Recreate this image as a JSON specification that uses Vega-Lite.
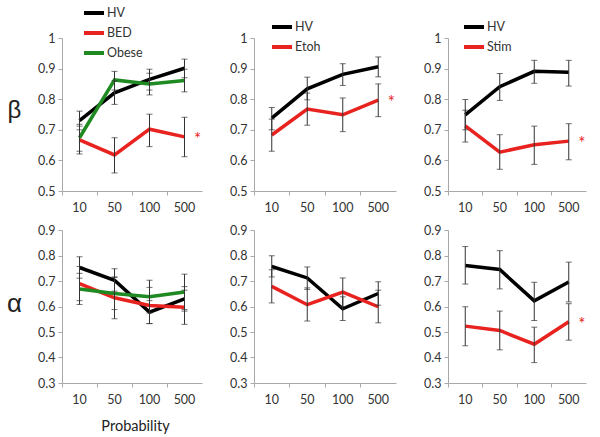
{
  "$schema": "https://vega.github.io/schema/vega-lite/v6.json",
  "background": "white",
  "padding": {"left": 6, "top": 1, "right": 5, "bottom": 5},
  "datasets": {
    "d": [
      {"panel": "b1", "group": "HV", "prob": "10", "value": 0.730, "lo": 0.700, "hi": 0.761},
      {"panel": "b1", "group": "HV", "prob": "50", "value": 0.821, "lo": 0.783, "hi": 0.860},
      {"panel": "b1", "group": "HV", "prob": "100", "value": 0.865, "lo": 0.830, "hi": 0.898},
      {"panel": "b1", "group": "HV", "prob": "500", "value": 0.901, "lo": 0.870, "hi": 0.931},
      {"panel": "b1", "group": "BED", "prob": "10", "value": 0.667, "lo": 0.621, "hi": 0.712},
      {"panel": "b1", "group": "BED", "prob": "50", "value": 0.618, "lo": 0.559, "hi": 0.674},
      {"panel": "b1", "group": "BED", "prob": "100", "value": 0.702, "lo": 0.645, "hi": 0.751},
      {"panel": "b1", "group": "BED", "prob": "500", "value": 0.677, "lo": 0.612, "hi": 0.741},
      {"panel": "b1", "group": "Obese", "prob": "10", "value": 0.674, "lo": 0.630, "hi": 0.718},
      {"panel": "b1", "group": "Obese", "prob": "50", "value": 0.863, "lo": 0.830, "hi": 0.891},
      {"panel": "b1", "group": "Obese", "prob": "100", "value": 0.850, "lo": 0.814, "hi": 0.885},
      {"panel": "b1", "group": "Obese", "prob": "500", "value": 0.861, "lo": 0.824, "hi": 0.898},
      {"panel": "b2", "group": "HV", "prob": "10", "value": 0.738, "lo": 0.700, "hi": 0.773},
      {"panel": "b2", "group": "HV", "prob": "50", "value": 0.834, "lo": 0.798, "hi": 0.872},
      {"panel": "b2", "group": "HV", "prob": "100", "value": 0.881, "lo": 0.845, "hi": 0.916},
      {"panel": "b2", "group": "HV", "prob": "500", "value": 0.906, "lo": 0.873, "hi": 0.938},
      {"panel": "b2", "group": "Etoh", "prob": "10", "value": 0.683, "lo": 0.630, "hi": 0.735},
      {"panel": "b2", "group": "Etoh", "prob": "50", "value": 0.768, "lo": 0.715, "hi": 0.820},
      {"panel": "b2", "group": "Etoh", "prob": "100", "value": 0.749, "lo": 0.694, "hi": 0.804},
      {"panel": "b2", "group": "Etoh", "prob": "500", "value": 0.797, "lo": 0.743, "hi": 0.850},
      {"panel": "b3", "group": "HV", "prob": "10", "value": 0.749, "lo": 0.700, "hi": 0.799},
      {"panel": "b3", "group": "HV", "prob": "50", "value": 0.841, "lo": 0.796, "hi": 0.884},
      {"panel": "b3", "group": "HV", "prob": "100", "value": 0.891, "lo": 0.852, "hi": 0.927},
      {"panel": "b3", "group": "HV", "prob": "500", "value": 0.888, "lo": 0.843, "hi": 0.927},
      {"panel": "b3", "group": "Stim", "prob": "10", "value": 0.713, "lo": 0.660, "hi": 0.764},
      {"panel": "b3", "group": "Stim", "prob": "50", "value": 0.627, "lo": 0.571, "hi": 0.684},
      {"panel": "b3", "group": "Stim", "prob": "100", "value": 0.651, "lo": 0.587, "hi": 0.712},
      {"panel": "b3", "group": "Stim", "prob": "500", "value": 0.663, "lo": 0.602, "hi": 0.720},
      {"panel": "a1", "group": "HV", "prob": "10", "value": 0.753, "lo": 0.711, "hi": 0.795},
      {"panel": "a1", "group": "HV", "prob": "50", "value": 0.703, "lo": 0.660, "hi": 0.748},
      {"panel": "a1", "group": "HV", "prob": "100", "value": 0.578, "lo": 0.533, "hi": 0.623},
      {"panel": "a1", "group": "HV", "prob": "500", "value": 0.630, "lo": 0.582, "hi": 0.678},
      {"panel": "a1", "group": "BED", "prob": "10", "value": 0.690, "lo": 0.623, "hi": 0.757},
      {"panel": "a1", "group": "BED", "prob": "50", "value": 0.634, "lo": 0.552, "hi": 0.716},
      {"panel": "a1", "group": "BED", "prob": "100", "value": 0.604, "lo": 0.533, "hi": 0.675},
      {"panel": "a1", "group": "BED", "prob": "500", "value": 0.597, "lo": 0.530, "hi": 0.664},
      {"panel": "a1", "group": "Obese", "prob": "10", "value": 0.669, "lo": 0.608, "hi": 0.730},
      {"panel": "a1", "group": "Obese", "prob": "50", "value": 0.651, "lo": 0.588, "hi": 0.714},
      {"panel": "a1", "group": "Obese", "prob": "100", "value": 0.638, "lo": 0.575, "hi": 0.703},
      {"panel": "a1", "group": "Obese", "prob": "500", "value": 0.657, "lo": 0.588, "hi": 0.727},
      {"panel": "a2", "group": "HV", "prob": "10", "value": 0.757, "lo": 0.716, "hi": 0.799},
      {"panel": "a2", "group": "HV", "prob": "50", "value": 0.712, "lo": 0.667, "hi": 0.755},
      {"panel": "a2", "group": "HV", "prob": "100", "value": 0.591, "lo": 0.545, "hi": 0.638},
      {"panel": "a2", "group": "HV", "prob": "500", "value": 0.651, "lo": 0.605, "hi": 0.697},
      {"panel": "a2", "group": "Etoh", "prob": "10", "value": 0.679, "lo": 0.614, "hi": 0.744},
      {"panel": "a2", "group": "Etoh", "prob": "50", "value": 0.607, "lo": 0.543, "hi": 0.673},
      {"panel": "a2", "group": "Etoh", "prob": "100", "value": 0.656, "lo": 0.600, "hi": 0.712},
      {"panel": "a2", "group": "Etoh", "prob": "500", "value": 0.599, "lo": 0.536, "hi": 0.664},
      {"panel": "a3", "group": "HV", "prob": "10", "value": 0.761, "lo": 0.688, "hi": 0.835},
      {"panel": "a3", "group": "HV", "prob": "50", "value": 0.745, "lo": 0.669, "hi": 0.819},
      {"panel": "a3", "group": "HV", "prob": "100", "value": 0.622, "lo": 0.545, "hi": 0.695},
      {"panel": "a3", "group": "HV", "prob": "500", "value": 0.696, "lo": 0.618, "hi": 0.774},
      {"panel": "a3", "group": "Stim", "prob": "10", "value": 0.523, "lo": 0.446, "hi": 0.599},
      {"panel": "a3", "group": "Stim", "prob": "50", "value": 0.506, "lo": 0.430, "hi": 0.582},
      {"panel": "a3", "group": "Stim", "prob": "100", "value": 0.452, "lo": 0.380, "hi": 0.519},
      {"panel": "a3", "group": "Stim", "prob": "500", "value": 0.540, "lo": 0.468, "hi": 0.611}
    ]
  },
  "data": {"name": "d"},
  "columns": 3,
  "spacing": {"row": 39, "column": 52},
  "bounds": "flush",
  "resolve": {
    "scale": {"x": "independent", "y": "independent", "color": "independent"},
    "axis": {"x": "independent", "y": "independent"},
    "legend": {"color": "independent"}
  },
  "concat": [
    {
      "width": 140, "height": 153,
      "transform": [{"filter": "datum.panel == 'b1'"}],
      "encoding": {
        "x": {"field": "prob", "type": "ordinal", "sort": ["10", "50", "100", "500"], "scale": {"type": "band", "paddingInner": 0, "paddingOuter": 0}, "axis": {"title": null, "labelAngle": 0, "bandPosition": 0}}
      },
      "layer": [
        {"mark": {"type": "line", "strokeWidth": 3.5},
         "encoding": {
           "y": {"field": "value", "type": "quantitative", "title": "β", "scale": {"domain": [0.5, 1], "nice": false, "zero": false}, "axis": {"values": [0.5, 0.6, 0.7, 0.8, 0.9, 1], "labelOverlap": false, "format": ".1~f", "titleAngle": 0, "titleX": -48, "titleY": 72, "titleAlign": "center", "titleBaseline": "middle", "titleFontSize": 24}},
           "color": {"field": "group", "type": "nominal", "scale": {"domain": ["HV", "BED", "Obese"], "range": ["#000000", "#e8231f", "#1f8a22"]}, "legend": {"title": null, "orient": "none", "legendX": 20, "legendY": -37, "rowPadding": -4}}
         }},
        {"mark": {"type": "errorbar", "ticks": {"size": 6}, "color": "#333333", "thickness": 1},
         "encoding": {"y": {"field": "lo", "type": "quantitative", "title": "β", "axis": {"values": [0.5, 0.6, 0.7, 0.8, 0.9, 1], "labelOverlap": false, "format": ".1~f", "titleAngle": 0, "titleX": -48, "titleY": 72, "titleAlign": "center", "titleBaseline": "middle", "titleFontSize": 24}}, "y2": {"field": "hi"}, "detail": {"field": "group"}}},
        {"transform": [{"filter": "datum.group == 'BED' && datum.prob == '500'"}],
         "mark": {"type": "text", "text": "*", "dx": 13, "dy": 3, "fontSize": 17, "color": "#e8231f"},
         "encoding": {"y": {"field": "value", "type": "quantitative", "title": "β", "axis": {"values": [0.5, 0.6, 0.7, 0.8, 0.9, 1], "labelOverlap": false, "format": ".1~f", "titleAngle": 0, "titleX": -48, "titleY": 72, "titleAlign": "center", "titleBaseline": "middle", "titleFontSize": 24}}}}
      ]
    },
    {
      "width": 142, "height": 153,
      "transform": [{"filter": "datum.panel == 'b2'"}],
      "encoding": {
        "x": {"field": "prob", "type": "ordinal", "sort": ["10", "50", "100", "500"], "scale": {"type": "band", "paddingInner": 0, "paddingOuter": 0}, "axis": {"title": null, "labelAngle": 0, "bandPosition": 0}}
      },
      "layer": [
        {"mark": {"type": "line", "strokeWidth": 3.5},
         "encoding": {
           "y": {"field": "value", "type": "quantitative", "title": null, "scale": {"domain": [0.5, 1], "nice": false, "zero": false}, "axis": {"values": [0.5, 0.6, 0.7, 0.8, 0.9, 1], "labelOverlap": false, "format": ".1~f"}},
           "color": {"field": "group", "type": "nominal", "scale": {"domain": ["HV", "Etoh"], "range": ["#000000", "#e8231f"]}, "legend": {"title": null, "orient": "none", "legendX": 16, "legendY": -23, "rowPadding": -1}}
         }},
        {"mark": {"type": "errorbar", "ticks": {"size": 6}, "color": "#333333", "thickness": 1},
         "encoding": {"y": {"field": "lo", "type": "quantitative", "title": null, "axis": {"values": [0.5, 0.6, 0.7, 0.8, 0.9, 1], "labelOverlap": false, "format": ".1~f"}}, "y2": {"field": "hi"}, "detail": {"field": "group"}}},
        {"transform": [{"filter": "datum.group == 'Etoh' && datum.prob == '500'"}],
         "mark": {"type": "text", "text": "*", "dx": 13, "dy": 3, "fontSize": 17, "color": "#e8231f"},
         "encoding": {"y": {"field": "value", "type": "quantitative", "title": null, "axis": {"values": [0.5, 0.6, 0.7, 0.8, 0.9, 1], "labelOverlap": false, "format": ".1~f"}}}}
      ]
    },
    {
      "width": 138, "height": 153,
      "transform": [{"filter": "datum.panel == 'b3'"}],
      "encoding": {
        "x": {"field": "prob", "type": "ordinal", "sort": ["10", "50", "100", "500"], "scale": {"type": "band", "paddingInner": 0, "paddingOuter": 0}, "axis": {"title": null, "labelAngle": 0, "bandPosition": 0}}
      },
      "layer": [
        {"mark": {"type": "line", "strokeWidth": 3.5},
         "encoding": {
           "y": {"field": "value", "type": "quantitative", "title": null, "scale": {"domain": [0.5, 1], "nice": false, "zero": false}, "axis": {"values": [0.5, 0.6, 0.7, 0.8, 0.9, 1], "labelOverlap": false, "format": ".1~f"}},
           "color": {"field": "group", "type": "nominal", "scale": {"domain": ["HV", "Stim"], "range": ["#000000", "#e8231f"]}, "legend": {"title": null, "orient": "none", "legendX": 14, "legendY": -23, "rowPadding": -1}}
         }},
        {"mark": {"type": "errorbar", "ticks": {"size": 6}, "color": "#333333", "thickness": 1},
         "encoding": {"y": {"field": "lo", "type": "quantitative", "title": null, "axis": {"values": [0.5, 0.6, 0.7, 0.8, 0.9, 1], "labelOverlap": false, "format": ".1~f"}}, "y2": {"field": "hi"}, "detail": {"field": "group"}}},
        {"transform": [{"filter": "datum.group == 'Stim' && datum.prob == '500'"}],
         "mark": {"type": "text", "text": "*", "dx": 13, "dy": 3, "fontSize": 17, "color": "#e8231f"},
         "encoding": {"y": {"field": "value", "type": "quantitative", "title": null, "axis": {"values": [0.5, 0.6, 0.7, 0.8, 0.9, 1], "labelOverlap": false, "format": ".1~f"}}}}
      ]
    },
    {
      "width": 140, "height": 153,
      "transform": [{"filter": "datum.panel == 'a1'"}],
      "encoding": {
        "x": {"field": "prob", "type": "ordinal", "sort": ["10", "50", "100", "500"], "scale": {"type": "band", "paddingInner": 0, "paddingOuter": 0}, "axis": {"title": "Probability", "titleFontSize": 14.5, "titleFont": "Lato", "titleFontWeight": "normal", "titleX": 73, "titleY": 43, "titleAlign": "center", "titleBaseline": "middle", "labelAngle": 0, "bandPosition": 0}}
      },
      "layer": [
        {"mark": {"type": "line", "strokeWidth": 3.5},
         "encoding": {
           "y": {"field": "value", "type": "quantitative", "title": "α", "scale": {"domain": [0.3, 0.9], "nice": false, "zero": false}, "axis": {"values": [0.3, 0.4, 0.5, 0.6, 0.7, 0.8, 0.9], "labelOverlap": false, "format": ".1~f", "titleAngle": 0, "titleX": -48, "titleY": 73, "titleAlign": "center", "titleBaseline": "middle", "titleFontSize": 26}},
           "color": {"field": "group", "type": "nominal", "scale": {"domain": ["HV", "BED", "Obese"], "range": ["#000000", "#e8231f", "#1f8a22"]}, "legend": null}
         }},
        {"mark": {"type": "errorbar", "ticks": {"size": 6}, "color": "#333333", "thickness": 1},
         "encoding": {"y": {"field": "lo", "type": "quantitative", "title": "α", "axis": {"values": [0.3, 0.4, 0.5, 0.6, 0.7, 0.8, 0.9], "labelOverlap": false, "format": ".1~f", "titleAngle": 0, "titleX": -48, "titleY": 73, "titleAlign": "center", "titleBaseline": "middle", "titleFontSize": 26}}, "y2": {"field": "hi"}, "detail": {"field": "group"}}}
      ]
    },
    {
      "width": 142, "height": 153,
      "transform": [{"filter": "datum.panel == 'a2'"}],
      "encoding": {
        "x": {"field": "prob", "type": "ordinal", "sort": ["10", "50", "100", "500"], "scale": {"type": "band", "paddingInner": 0, "paddingOuter": 0}, "axis": {"title": null, "labelAngle": 0, "bandPosition": 0}}
      },
      "layer": [
        {"mark": {"type": "line", "strokeWidth": 3.5},
         "encoding": {
           "y": {"field": "value", "type": "quantitative", "title": null, "scale": {"domain": [0.3, 0.9], "nice": false, "zero": false}, "axis": {"values": [0.3, 0.4, 0.5, 0.6, 0.7, 0.8, 0.9], "labelOverlap": false, "format": ".1~f"}},
           "color": {"field": "group", "type": "nominal", "scale": {"domain": ["HV", "Etoh"], "range": ["#000000", "#e8231f"]}, "legend": null}
         }},
        {"mark": {"type": "errorbar", "ticks": {"size": 6}, "color": "#333333", "thickness": 1},
         "encoding": {"y": {"field": "lo", "type": "quantitative", "title": null, "axis": {"values": [0.3, 0.4, 0.5, 0.6, 0.7, 0.8, 0.9], "labelOverlap": false, "format": ".1~f"}}, "y2": {"field": "hi"}, "detail": {"field": "group"}}}
      ]
    },
    {
      "width": 138, "height": 153,
      "transform": [{"filter": "datum.panel == 'a3'"}],
      "encoding": {
        "x": {"field": "prob", "type": "ordinal", "sort": ["10", "50", "100", "500"], "scale": {"type": "band", "paddingInner": 0, "paddingOuter": 0}, "axis": {"title": null, "labelAngle": 0, "bandPosition": 0}}
      },
      "layer": [
        {"mark": {"type": "line", "strokeWidth": 3.5},
         "encoding": {
           "y": {"field": "value", "type": "quantitative", "title": null, "scale": {"domain": [0.3, 0.9], "nice": false, "zero": false}, "axis": {"values": [0.3, 0.4, 0.5, 0.6, 0.7, 0.8, 0.9], "labelOverlap": false, "format": ".1~f"}},
           "color": {"field": "group", "type": "nominal", "scale": {"domain": ["HV", "Stim"], "range": ["#000000", "#e8231f"]}, "legend": null}
         }},
        {"mark": {"type": "errorbar", "ticks": {"size": 6}, "color": "#333333", "thickness": 1},
         "encoding": {"y": {"field": "lo", "type": "quantitative", "title": null, "axis": {"values": [0.3, 0.4, 0.5, 0.6, 0.7, 0.8, 0.9], "labelOverlap": false, "format": ".1~f"}}, "y2": {"field": "hi"}, "detail": {"field": "group"}}},
        {"transform": [{"filter": "datum.group == 'Stim' && datum.prob == '500'"}],
         "mark": {"type": "text", "text": "*", "dx": 13, "dy": 3, "fontSize": 17, "color": "#e8231f"},
         "encoding": {"y": {"field": "value", "type": "quantitative", "title": null, "axis": {"values": [0.3, 0.4, 0.5, 0.6, 0.7, 0.8, 0.9], "labelOverlap": false, "format": ".1~f"}}}}
      ]
    }
  ],
  "config": {
    "view": {"stroke": null},
    "font": "Lato",
    "axis": {
      "grid": false,
      "labelOverlap": false,
      "domainColor": "#a8a8a8",
      "tickColor": "#a8a8a8",
      "tickSize": 4,
      "labelColor": "#333333",
      "labelFont": "Lato",
      "labelFontSize": 12.5,
      "titleFont": "Liberation Sans",
      "titleFontWeight": "normal",
      "titleColor": "#222222"
    },
    "axisX": {"labelPadding": 6},
    "axisY": {"labelPadding": 3},
    "legend": {
      "symbolType": "stroke",
      "symbolSize": 400,
      "symbolStrokeWidth": 4,
      "labelFont": "Lato",
      "labelFontSize": 12.5,
      "labelColor": "#333333",
      "labelOffset": 1,
      "padding": 0
    }
  }
}
